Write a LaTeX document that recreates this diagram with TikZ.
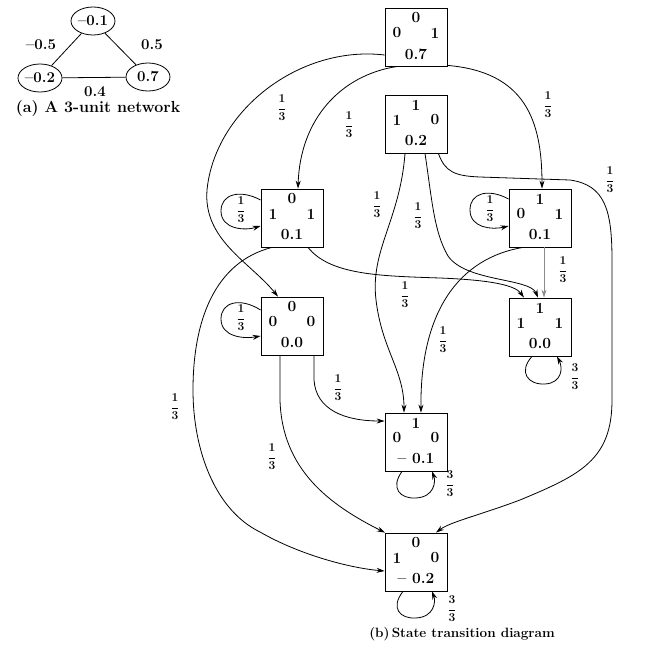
\documentclass[tikz,border=0pt]{standalone}
\usepackage{fontspec}
\usepackage{amsmath}
\usetikzlibrary{arrows.meta,calc,shapes.geometric}

\tikzset{
  sbox/.style={draw, line width=0.8pt, minimum width=62pt, minimum height=58pt, inner sep=0pt},
  stxt/.style={font=\fontsize{15.5}{17}\selectfont\bfseries, inner sep=0pt},
  edge/.style={line width=0.8pt, -{Stealth[length=8pt,width=5pt]}},
  prob/.style={font=\fontsize{13}{15}\selectfont\boldmath, inner sep=0pt},
  unit/.style={draw, ellipse, line width=0.8pt, minimum width=44pt, minimum height=28pt, inner sep=0pt,
    font=\fontsize{15}{17}\selectfont\bfseries},
  wlabel/.style={font=\fontsize{15}{17}\selectfont\bfseries, inner sep=0pt},
  wire/.style={line width=0.8pt},
  caption/.style={font=\fontsize{16}{18}\selectfont\bfseries, inner sep=0pt}
}

% state box: name, x, y, top bit, left bit, right bit, energy
\newcommand{\mkstate}[7]{%
  \node[sbox] (#1) at (#2,#3) {};
  \node[stxt] (#1-t) at ($(#1.center)+(0,-19)$) {#4};
  \node[stxt] (#1-l) at ($(#1.center)+(-19,-4)$) {#5};
  \node[stxt] (#1-r) at ($(#1.center)+(19,-4)$) {#6};
  \node[stxt] (#1-e) at ($(#1.center)+(0,17)$) {#7};
}
\newcommand{\third}{$\dfrac{1}{3}$}
\newcommand{\whole}{$\dfrac{3}{3}$}

\begin{document}
\begin{tikzpicture}[x=1pt,y=-1pt]
\useasboundingbox (0,0) rectangle (657,651);

% ---- (a) the network ----
\node[unit] (u1) at (93,21) {--0.1};
\node[unit] (u2) at (40,78) {--0.2};
\node[unit] (u3) at (148,77) {0.7};
\draw[wire] (u1) -- (u2);
\draw[wire] (u1) -- (u3);
\draw[wire] (u2) -- (u3);
\node[wlabel] (w12) at (41,45) {--0.5};
\node[wlabel] (w13) at (152,45) {0.5};
\node[wlabel] (w23) at (95,92) {0.4};
\node[caption] (capa) at (98,109) {(a) A 3-unit network};

% ---- (b) the state boxes ----
\mkstate{A}{416}{37}{0}{0}{1}{0.7}
\mkstate{B}{416}{124}{1}{1}{0}{0.2}
\mkstate{C}{292}{218}{0}{1}{1}{0.1}
\mkstate{D}{292}{326}{0}{0}{0}{0.0}
\mkstate{E}{540}{218}{1}{0}{1}{0.1}
\mkstate{F}{540}{327}{1}{1}{1}{0.0}
\mkstate{G}{416}{442}{1}{0}{0}{-- 0.1}
\mkstate{H}{416}{562}{0}{1}{0}{-- 0.2}

% transitions out of A
\draw[edge] ($(A.west)+(0,18)$) .. controls (300,45) and (215,110) .. (207,190)
  .. controls (203,240) and (250,262) .. ($(D.north)+(-14,0)$);
\draw[edge] ($(A.south west)+(13,0)$) .. controls (340,75) and (300,120) .. ($(C.north)+(6,0)$);
\draw[edge] ($(A.south east)+(0,-1)$) .. controls (525,72) and (542,120) .. ($(E.north)+(2,0)$);

% transitions out of B
\draw[edge] ($(B.south)+(-11,0)$) .. controls (400,220) and (370,250) .. (376,300)
  .. controls (382,350) and (404,370) .. ($(G.north)+(-12,0)$);
\draw[edge] ($(B.south)+(9,0)$) .. controls (432,200) and (434,232) .. (448,256)
  .. controls (466,282) and (530,278) .. ($(F.north)+(-2,0)$);
\draw[edge] ($(B.south east)+(-9,0)$) .. controls (445,172) and (455,176) .. (480,177)
  -- (570,180) .. controls (605,185) and (612,210) .. (612,260) -- (612,400)
  .. controls (612,460) and (580,475) .. (520,500)
  .. controls (480,515) and (450,522) .. ($(H.north)+(20,0)$);

% transitions out of C
\draw[edge] ($(C.south)+(16,0)$) .. controls (330,275) and (380,276) .. (440,278)
  .. controls (490,280) and (515,285) .. ($(F.north)+(-16,0)$);
\draw[edge] ($(C.south)+(-20,0)$) .. controls (215,262) and (193,320) .. (193,390)
  .. controls (193,450) and (215,510) .. (260,532)
  .. controls (300,555) and (350,568) .. ($(H.west)+(0,9)$);
\draw[edge] ($(C.west)+(0,-18)$) .. controls (240,189) and (221,194) .. (221,211)
  .. controls (221,229) and (244,231) .. ($(C.west)+(0,8)$);

% transitions out of D
\draw[edge] ($(D.south)+(-12,0)$) -- (280,400) .. controls (282,470) and (330,505) .. ($(H.north)+(-31,0)$);
\draw[edge] ($(D.south)+(22,0)$) -- (314,380) .. controls (316,410) and (345,421) .. ($(G.west)+(0,-21)$);
\draw[edge] ($(D.west)+(0,-16)$) .. controls (240,297) and (221,302) .. (221,319)
  .. controls (221,337) and (244,339) .. ($(D.west)+(0,10)$);

% transitions out of E
\draw[edge] ($(E.south)+(-17,0)$) .. controls (460,258) and (420,310) .. ($(G.north)+(5,0)$);
\draw[edge, draw=black!45] ($(E.south)+(4,0)$) -- ($(F.north)+(4,0)$);
\draw[edge] ($(E.west)+(0,-19)$) .. controls (488,188) and (470,193) .. (470,210)
  .. controls (470,228) and (492,230) .. ($(E.west)+(0,8)$);

% self loops below F, G, H
\draw[edge] ($(F.south)+(-8,0)$) .. controls (518,372) and (528,385) .. (545,384)
  .. controls (562,383) and (563,368) .. ($(F.south)+(17,0)$);
\draw[edge] ($(G.south)+(-14,0)$) .. controls (390,488) and (400,499) .. (416,498)
  .. controls (434,497) and (436,482) .. ($(G.south)+(16,0)$);
\draw[edge] ($(H.south)+(-13,0)$) .. controls (390,608) and (400,619) .. (416,618)
  .. controls (434,617) and (436,602) .. ($(H.south)+(16,0)$);

% transition probabilities
\node[prob] (pAD) at (282,108) {\third};
\node[prob] (pAC) at (349,125) {\third};
\node[prob] (pAE) at (548,105) {\third};
\node[prob] (pBG) at (377,205) {\third};
\node[prob] (pBF) at (418,216) {\third};
\node[prob] (pBH) at (610,180) {\third};
\node[prob] (pCF) at (405,295) {\third};
\node[prob] (pCH) at (175,407) {\third};
\node[prob] (pCC) at (241,210) {\third};
\node[prob] (pDH) at (272,457) {\third};
\node[prob] (pDG) at (338,388) {\third};
\node[prob] (pDD) at (241,318) {\third};
\node[prob] (pEG) at (443,340) {\third};
\node[prob] (pEF) at (563,270) {\third};
\node[prob] (pEE) at (490,209) {\third};
\node[prob] (pFF) at (575,377) {\whole};
\node[prob] (pGG) at (450,484) {\whole};
\node[prob] (pHH) at (452,609) {\whole};

\node[caption, font=\fontsize{13.5}{15}\selectfont\bfseries] (capb) at (462,634) {(b)\,State transition diagram};
\end{tikzpicture}
\end{document}
